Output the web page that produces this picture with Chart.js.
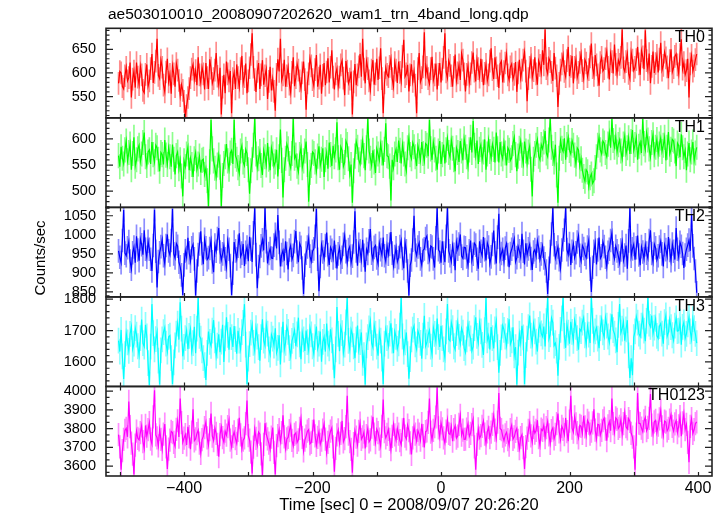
<!DOCTYPE html>
<html>
<head>
<meta charset="utf-8">
<title>ae503010010 wam1 trn 4band</title>
<script src="https://cdn.jsdelivr.net/npm/chart.js@4.4.1/dist/chart.umd.min.js"></script>
<style>
  html, body { margin: 0; padding: 0; background: #fff; }
  #wrap { width: 723px; height: 516px; }
</style>
</head>
<body>
<div id="wrap"><canvas id="lc" width="723" height="516"></canvas></div>
<script>
// light curve, 2 s samples starting at t = -502 s
const tStart = -502;
const tStep = 2;

const panelNames = ["TH0", "TH1", "TH2", "TH3", "TH0123"];

const th0 = [
  578, 603, 600, 571, 566, 594, 612, 583, 590, 622, 548, 587, 604, 569, 622, 591, 575, 614, 596, 563, 558, 597, 618, 572, 583, 609, 640, 579, 601, 625,
  672, 595, 588, 627, 612, 574, 560, 602, 630, 581, 597, 556, 615, 598, 571, 620, 606, 584, 552, 575, 563, 540, 508, 531, 548, 567, 590, 608, 618, 586,
  605, 574, 633, 596, 579, 612, 598, 565, 621, 590, 566, 629, 610, 578, 588, 606, 642, 593, 574, 611, 512, 570, 596, 557, 624, 598, 583, 604, 515, 588,
  601, 566, 618, 590, 570, 609, 636, 578, 592, 620, 557, 583, 611, 639, 684, 612, 586, 560, 603, 621, 566, 596, 627, 575, 594, 608, 545, 582, 613, 563,
  587, 561, 520, 597, 629, 603, 672, 585, 596, 628, 571, 594, 612, 576, 558, 601, 633, 572, 590, 619, 606, 583, 567, 600, 624, 586, 522, 579, 598, 631,
  615, 586, 573, 607, 638, 571, 589, 617, 556, 595, 621, 574, 602, 631, 580, 612, 648, 591, 565, 598, 609, 572, 591, 617, 626, 589, 553, 625, 604, 578,
  587, 603, 512, 581, 619, 574, 596, 613, 640, 592, 672, 608, 578, 625, 609, 583, 564, 606, 627, 575, 598, 630, 585, 611, 652, 588, 515, 579, 611, 597,
  592, 614, 630, 588, 571, 622, 606, 579, 624, 601, 583, 635, 670, 592, 598, 617, 561, 596, 618, 582, 603, 574, 515, 609, 642, 581, 590, 613, 686, 597,
  612, 588, 577, 609, 634, 584, 596, 620, 565, 597, 621, 580, 608, 633, 684, 602, 589, 626, 616, 594, 571, 612, 639, 583, 600, 617, 585, 641, 627, 598,
  561, 597, 615, 579, 598, 622, 643, 604, 582, 628, 609, 591, 630, 605, 574, 599, 618, 583, 596, 625, 652, 607, 587, 633, 611, 594, 568, 619, 625, 580,
  603, 621, 640, 596, 585, 613, 619, 587, 597, 623, 560, 600, 628, 589, 606, 627, 644, 604, 540, 588, 612, 631, 590, 605, 633, 598, 575, 626, 616, 600,
  648, 617, 692, 609, 598, 631, 624, 601, 583, 642, 610, 594, 528, 578, 606, 619, 637, 603, 592, 626, 655, 593, 614, 636, 578, 612, 629, 590, 601, 622,
  640, 605, 588, 628, 621, 592, 607, 634, 662, 611, 595, 638, 617, 596, 573, 622, 633, 604, 609, 630, 646, 612, 586, 641, 624, 599, 660, 618, 598, 627,
  618, 633, 692, 611, 603, 624, 641, 599, 588, 643, 627, 605, 612, 628, 655, 619, 596, 647, 634, 608, 690, 626, 607, 641, 578, 614, 645, 600, 620, 637,
  601, 629, 664, 606, 616, 644, 632, 613, 589, 626, 650, 602, 611, 635, 640, 617, 598, 639, 671, 608, 622, 596, 605, 630, 548, 619, 637, 604, 615, 628,
  640,
];

const th1 = [
  568, 547, 585, 563, 552, 579, 596, 558, 574, 590, 541, 572, 603, 548, 560, 581, 588, 557, 571, 593, 612, 566, 549, 575, 579, 552, 594, 570, 556, 588,
  583, 561, 538, 574, 570, 551, 598, 569, 551, 583, 566, 547, 589, 561, 532, 568, 575, 543, 560, 529, 490, 558, 547, 571, 584, 540, 563, 551, 527, 562,
  574, 541, 552, 567, 536, 559, 561, 532, 544, 520, 471, 556, 636, 581, 558, 544, 527, 550, 569, 546, 471, 530, 553, 566, 590, 558, 542, 573, 578, 552,
  636, 568, 561, 545, 534, 577, 587, 556, 549, 580, 572, 541, 495, 539, 560, 588, 640, 571, 545, 562, 576, 549, 531, 578, 566, 550, 592, 561, 540, 583,
  571, 548, 556, 579, 528, 566, 618, 559, 488, 541, 563, 590, 581, 553, 544, 572, 640, 563, 569, 548, 537, 570, 583, 545, 558, 577, 595, 551, 480, 536,
  549, 575, 572, 556, 538, 567, 586, 549, 561, 582, 527, 560, 574, 543, 593, 570, 548, 587, 566, 579, 632, 564, 541, 585, 578, 547, 555, 596, 589, 562,
  533, 551, 478, 539, 567, 595, 584, 560, 552, 575, 596, 568, 540, 583, 640, 577, 563, 549, 578, 556, 535, 581, 571, 559, 590, 573, 549, 580, 630, 568,
  566, 548, 482, 560, 545, 571, 580, 556, 597, 578, 553, 589, 571, 552, 539, 583, 602, 570, 562, 593, 585, 566, 548, 587, 576, 559, 594, 572, 557, 591,
  588, 567, 636, 581, 560, 594, 579, 563, 541, 577, 596, 552, 570, 589, 553, 579, 601, 574, 565, 598, 582, 560, 538, 583, 574, 556, 596, 577, 559, 600,
  584, 566, 547, 579, 603, 574, 634, 588, 568, 597, 552, 580, 589, 560, 575, 599, 541, 571, 598, 576, 563, 590, 580, 555, 612, 581, 555, 594, 571, 562,
  592, 573, 549, 583, 578, 559, 564, 591, 603, 570, 538, 567, 582, 596, 569, 553, 595, 577, 553, 575, 586, 542, 490, 561, 572, 588, 599, 567, 560, 589,
  581, 594, 615, 573, 566, 598, 640, 584, 572, 556, 589, 531, 478, 563, 597, 582, 576, 601, 560, 589, 603, 578, 571, 597, 588, 569, 552, 583, 579, 548,
  562, 540, 528, 519, 541, 537, 509, 526, 533, 515, 520, 545, 566, 588, 603, 579, 571, 596, 592, 574, 566, 590, 611, 583, 638, 597, 584, 604, 575, 589,
  598, 577, 562, 590, 606, 572, 583, 602, 571, 595, 617, 578, 589, 603, 560, 586, 594, 573, 638, 591, 579, 612, 598, 581, 565, 593, 608, 570, 584, 599,
  571, 590, 602, 576, 588, 603, 559, 584, 613, 571, 580, 599, 596, 577, 548, 592, 587, 565, 609, 583, 566, 578, 540, 571, 592, 560, 575, 594, 558, 573,
  584,
];

const th2 = [
  958, 941, 927, 985, 1065, 952, 945, 966, 982, 931, 910, 953, 968, 927, 996, 960, 932, 989, 974, 948, 1012, 962, 941, 983, 962, 936, 905, 972, 1066, 957,
  862, 930, 953, 969, 988, 945, 924, 972, 1001, 958, 947, 985, 1068, 950, 939, 977, 970, 928, 916, 895, 842, 921, 958, 940, 992, 953, 931, 966, 975, 937,
  841, 905, 948, 976, 1009, 951, 923, 988, 966, 935, 940, 964, 985, 929, 902, 973, 957, 990, 1018, 955, 934, 950, 971, 937, 915, 984, 962, 919, 842, 899,
  981, 958, 937, 970, 1004, 943, 952, 976, 918, 954, 968, 931, 995, 962, 929, 1005, 1070, 948, 860, 917, 943, 971, 987, 959, 1070, 982, 925, 951, 964, 939,
  938, 973, 1001, 964, 1052, 980, 917, 948, 959, 932, 983, 951, 909, 960, 972, 935, 946, 982, 1010, 955, 928, 977, 967, 913, 845, 920, 952, 968, 991, 944,
  930, 957, 963, 996, 1068, 936, 852, 917, 974, 955, 938, 972, 1006, 948, 921, 967, 959, 939, 985, 943, 912, 950, 966, 929, 941, 975, 998, 956, 927, 961,
  969, 926, 944, 981, 1062, 958, 919, 975, 958, 934, 987, 946, 903, 962, 951, 984, 1015, 952, 936, 967, 972, 939, 924, 978, 961, 947, 993, 945, 930, 971,
  949, 975, 1007, 952, 918, 943, 966, 929, 940, 969, 985, 938, 912, 980, 958, 905, 841, 920, 934, 986, 1050, 960, 946, 968, 979, 937, 921, 959, 963, 990,
  997, 954, 935, 971, 968, 937, 914, 992, 1070, 961, 955, 927, 983, 952, 928, 996, 1070, 958, 945, 930, 972, 949, 907, 981, 962, 976, 1001, 944, 938, 967,
  966, 942, 920, 958, 985, 932, 949, 978, 973, 936, 911, 983, 957, 945, 994, 961, 933, 979, 968, 924, 942, 975, 1011, 953, 925, 994, 1055, 936, 951, 962,
  930, 965, 977, 948, 915, 951, 962, 974, 989, 929, 940, 970, 958, 942, 1003, 957, 922, 978, 947, 963, 975, 938, 908, 955, 961, 944, 984, 967, 935, 950,
  970, 939, 924, 905, 845, 912, 956, 1002, 1070, 974, 939, 953, 968, 935, 912, 960, 987, 1012, 1070, 961, 948, 977, 921, 957, 976, 940, 953, 981, 998, 946,
  931, 972, 964, 949, 940, 968, 986, 910, 850, 915, 957, 979, 922, 960, 993, 938, 945, 982, 969, 941, 916, 954, 962, 985, 1005, 952, 937, 970, 958, 944,
  926, 960, 981, 932, 947, 972, 911, 984, 1070, 944, 963, 975, 935, 966, 998, 947, 920, 969, 955, 937, 974, 952, 938, 985, 1012, 951, 929, 976, 966, 934,
  945, 968, 983, 950, 917, 974, 961, 943, 994, 959, 932, 976, 957, 935, 1018, 962, 941, 980, 970, 951, 913, 947, 962, 973, 986, 958, 1052, 971, 938, 905,
  848,
];

const th3 = [
  1668, 1633, 1702, 1618, 1546, 1625, 1691, 1662, 1635, 1689, 1712, 1641, 1658, 1708, 1687, 1650, 1622, 1676, 1735, 1660, 1649, 1718, 1681, 1596, 1527, 1649, 1784, 1692, 1640, 1673,
  1695, 1604, 1528, 1637, 1672, 1695, 1710, 1658, 1633, 1680, 1684, 1612, 1530, 1599, 1653, 1690, 1722, 1671, 1790, 1706, 1618, 1648, 1676, 1700, 1641, 1683, 1705, 1634, 1660, 1712,
  1628, 1706, 1805, 1683, 1674, 1637, 1612, 1590, 1543, 1629, 1697, 1664, 1651, 1700, 1733, 1669, 1620, 1652, 1688, 1631, 1665, 1718, 1600, 1675, 1742, 1686, 1639, 1710, 1679, 1648,
  1714, 1673, 1626, 1699, 1668, 1641, 1695, 1724, 1784, 1655, 1530, 1611, 1657, 1693, 1718, 1661, 1636, 1708, 1681, 1647, 1604, 1679, 1736, 1668, 1652, 1719, 1690, 1640, 1623, 1687,
  1674, 1652, 1707, 1629, 1645, 1685, 1592, 1671, 1728, 1639, 1661, 1712, 1696, 1644, 1618, 1667, 1683, 1701, 1650, 1688, 1741, 1656, 1609, 1694, 1672, 1635, 1700, 1663, 1637, 1709,
  1688, 1650, 1626, 1679, 1713, 1642, 1658, 1697, 1601, 1664, 1680, 1633, 1722, 1658, 1643, 1704, 1669, 1616, 1548, 1640, 1775, 1689, 1634, 1711, 1692, 1628, 1655, 1726, 1805, 1667,
  1640, 1703, 1688, 1650, 1612, 1671, 1716, 1638, 1663, 1694, 1597, 1622, 1528, 1653, 1679, 1707, 1731, 1660, 1646, 1717, 1690, 1649, 1620, 1695, 1668, 1611, 1530, 1658, 1704, 1676,
  1651, 1690, 1723, 1668, 1628, 1697, 1680, 1642, 1659, 1716, 1805, 1681, 1633, 1662, 1694, 1625, 1547, 1609, 1672, 1703, 1715, 1656, 1640, 1699, 1686, 1661, 1610, 1684, 1747, 1650,
  1662, 1687, 1701, 1649, 1625, 1710, 1689, 1665, 1738, 1679, 1648, 1715, 1676, 1640, 1614, 1697, 1784, 1672, 1667, 1726, 1708, 1650, 1639, 1692, 1725, 1680, 1658, 1707, 1693, 1644,
  1630, 1672, 1719, 1690, 1675, 1635, 1649, 1708, 1742, 1683, 1661, 1725, 1697, 1654, 1622, 1701, 1805, 1669, 1684, 1640, 1711, 1676, 1643, 1704, 1730, 1647, 1566, 1629, 1678, 1716,
  1702, 1681, 1652, 1699, 1736, 1657, 1669, 1710, 1621, 1647, 1528, 1630, 1690, 1660, 1715, 1678, 1530, 1622, 1674, 1711, 1748, 1684, 1658, 1722, 1697, 1665, 1633, 1702, 1720, 1691,
  1681, 1713, 1649, 1730, 1805, 1673, 1688, 1740, 1725, 1652, 1660, 1636, 1556, 1648, 1702, 1739, 1805, 1683, 1645, 1719, 1693, 1658, 1728, 1696, 1667, 1733, 1712, 1676, 1639, 1704,
  1698, 1725, 1741, 1685, 1656, 1715, 1687, 1660, 1805, 1731, 1672, 1697, 1709, 1674, 1644, 1708, 1736, 1694, 1679, 1742, 1716, 1681, 1662, 1713, 1752, 1701, 1690, 1669, 1631, 1718,
  1784, 1693, 1706, 1728, 1668, 1704, 1733, 1621, 1549, 1612, 1558, 1679, 1697, 1744, 1725, 1690, 1681, 1716, 1744, 1700, 1666, 1731, 1805, 1722, 1712, 1748, 1690, 1709, 1737, 1683,
  1675, 1714, 1722, 1690, 1658, 1727, 1748, 1681, 1694, 1735, 1711, 1685, 1668, 1716, 1739, 1698, 1700, 1728, 1655, 1712, 1726, 1675, 1689, 1720, 1742, 1697, 1673, 1736, 1708, 1689,
  1660,
];

const th0123 = [
  3768, 3702, 3580, 3683, 3742, 3791, 3801, 3756, 3945, 3810, 3722, 3664, 3555, 3712, 3786, 3748, 3740, 3779, 3815, 3731, 3694, 3817, 3760, 3795, 3832, 3744, 3718, 3863, 4005, 3766,
  3751, 3708, 3796, 3742, 3689, 3771, 3824, 3702, 3585, 3690, 3738, 3785, 3779, 3727, 3705, 3796, 3842, 3755, 3960, 3832, 3726, 3749, 3768, 3713, 3810, 3757, 3690, 3781, 3903, 3735,
  3745, 3773, 3792, 3722, 3668, 3741, 3760, 3805, 3835, 3751, 3712, 3794, 3881, 3760, 3736, 3802, 3774, 3716, 3650, 3768, 3809, 3752, 3728, 3786, 3765, 3810, 3846, 3739, 3703, 3758,
  3782, 3747, 3721, 3790, 3858, 3766, 3693, 3738, 3750, 3827, 3950, 3762, 3738, 3675, 3560, 3701, 3796, 3748, 3712, 3781, 3770, 3665, 3552, 3716, 3829, 3770, 3745, 3722, 3688, 3754,
  3806, 3673, 3555, 3709, 3762, 3795, 3731, 3778, 3871, 3756, 3694, 3745, 3753, 3789, 3818, 3737, 3708, 3769, 3777, 3726, 3740, 3801, 3852, 3753, 3681, 3738, 3760, 3786, 3795, 3719,
  3726, 3785, 3848, 3761, 3710, 3753, 3783, 3716, 3739, 3792, 3825, 3744, 3671, 3727, 3758, 3786, 3804, 3702, 3570, 3695, 3766, 3793, 3722, 3775, 3841, 3729, 3747, 3810, 3975, 3770,
  3731, 3689, 3565, 3720, 3788, 3754, 3712, 3785, 3829, 3743, 3756, 3781, 3694, 3762, 3801, 3729, 3740, 3808, 3863, 3770, 3725, 3796, 3779, 3744, 3707, 3812, 3955, 3784, 3751, 3769,
  3796, 3742, 3688, 3759, 3822, 3766, 3738, 3801, 3770, 3736, 3714, 3793, 3857, 3760, 3745, 3818, 3789, 3724, 3662, 3751, 3808, 3770, 3734, 3790, 3771, 3738, 3826, 3762, 3700, 3784,
  3788, 3833, 3960, 3781, 3742, 3790, 3811, 3862, 4020, 3804, 3757, 3830, 3798, 3751, 3723, 3787, 3846, 3774, 3769, 3811, 3733, 3795, 3815, 3749, 3760, 3822, 3871, 3765, 3792, 3743,
  3744, 3797, 3826, 3758, 3775, 3821, 3850, 3703, 3580, 3716, 3798, 3749, 3763, 3812, 3840, 3771, 3722, 3783, 3806, 3752, 3781, 3823, 3869, 3792, 3748, 3835, 3990, 3801, 3794, 3760,
  3735, 3766, 3780, 3741, 3712, 3794, 3818, 3743, 3756, 3785, 3801, 3737, 3693, 3752, 3768, 3698, 3585, 3704, 3749, 3791, 3832, 3761, 3727, 3806, 3776, 3790, 3845, 3752, 3710, 3797,
  3790, 3818, 3752, 3805, 3838, 3767, 3721, 3789, 3804, 3745, 3769, 3826, 3880, 3783, 3740, 3812, 3796, 3768, 3857, 3784, 3733, 3840, 3975, 3802, 3781, 3863, 3825, 3779, 3750, 3817,
  3812, 3775, 3868, 3809, 3764, 3844, 3829, 3770, 3786, 3831, 3903, 3792, 3745, 3823, 3820, 3766, 3791, 3842, 3856, 3797, 3736, 3815, 3837, 3789, 3960, 3826, 3780, 3858, 3849, 3801,
  3812, 3847, 3770, 3826, 3885, 3810, 3798, 3853, 3838, 3775, 3755, 3702, 3580, 3771, 3990, 3829, 3827, 3803, 3784, 3841, 3860, 3789, 3806, 3855, 3985, 3818, 3772, 3836, 3844, 3780,
  3818, 3852, 3897, 3809, 3763, 3840, 3835, 3788, 3801, 3846, 3874, 3812, 3787, 3825, 3842, 3779, 3815, 3864, 3760, 3831, 3880, 3795, 3822, 3726, 3620, 3812, 3853, 3774, 3795, 3827,
  3836,
];

const series = [th0, th1, th2, th3, th0123];

// 1-sigma error of each panel (counts/sec)
const errors = [24, 24, 31, 41, 62];

// axis ranges and ticks
const xMin = -521.5;
const xMax = 421.8;
const xTickMarks = [-500, -400, -300, -200, -100, 0, 100, 200, 300, 400];
const xTickLabels = [-400, -200, 0, 200, 400];

const yMin = [505, 469, 837, 1522, 3547];
const yMax = [694.4, 640.3, 1072, 1807, 4025];
const yMajor = [
  [550, 600, 650],
  [500, 550, 600],
  [850, 900, 950, 1000, 1050],
  [1600, 1700, 1800],
  [3600, 3700, 3800, 3900, 4000],
];
const yMinorStep = [10, 10, 10, 20, 100 / 3];

const lineColors = ["#ff0000", "#00ff00", "#0000ff", "#00ffff", "#ff00ff"];
const barColors = ["#ff8c8c", "#8cff8c", "#8c8cff", "#8cffff", "#ff8cff"];

const FONT = "'Liberation Sans', Arial, Helvetica, sans-serif";
Chart.defaults.font.family = FONT;
Chart.defaults.color = "#000";

function minus(v) {
  return v < 0 ? "\u2212" + Math.abs(v) : String(v);
}

// light error bars under each line, about one bin wide
const errorBarPlugin = {
  id: "errorBars",
  beforeDatasetsDraw(chart) {
    const ctx = chart.ctx;
    const area = chart.chartArea;
    const xs = chart.scales.x;
    const binPx = xs.getPixelForValue(tStep) - xs.getPixelForValue(0);

    series.forEach(function (vals, k) {
      const ys = chart.scales["y" + k];
      ctx.save();
      ctx.beginPath();
      ctx.rect(area.left, ys.top, area.right - area.left, ys.bottom - ys.top);
      ctx.clip();
      ctx.strokeStyle = barColors[k];
      ctx.lineWidth = binPx + 0.4;
      ctx.lineCap = "butt";
      ctx.beginPath();
      vals.forEach(function (v, i) {
        const px = xs.getPixelForValue(tStart + tStep * i);
        ctx.moveTo(px, ys.getPixelForValue(v - errors[k]));
        ctx.lineTo(px, ys.getPixelForValue(v + errors[k]));
      });
      ctx.stroke();
      ctx.restore();
    });
  },
};

// panel frames, inner tick marks, panel names, titles
const framePlugin = {
  id: "frames",
  afterDraw(chart) {
    const ctx = chart.ctx;
    const area = chart.chartArea;
    const xs = chart.scales.x;

    ctx.save();
    ctx.strokeStyle = "#222";
    ctx.fillStyle = "#000";

    for (let k = 0; k < series.length; k++) {
      const ys = chart.scales["y" + k];
      const top = ys.top;
      const bottom = ys.bottom;

      ctx.lineWidth = 1.2;
      ctx.beginPath();

      xTickMarks.forEach(function (v) {
        const px = Math.round(xs.getPixelForValue(v)) + 0.5;
        ctx.moveTo(px, top);
        ctx.lineTo(px, top + 4);
        ctx.moveTo(px, bottom);
        ctx.lineTo(px, bottom - 4);
      });

      const step = yMinorStep[k];
      const first = yMajor[k][0];
      for (let v = first - step * Math.floor((first - yMin[k]) / step); v <= yMax[k]; v += step) {
        const py = ys.getPixelForValue(v);
        const isMajor = yMajor[k].some(function (m) { return Math.abs(m - v) < 0.01; });
        const len = isMajor ? 7 : 3.5;
        ctx.moveTo(area.left, py);
        ctx.lineTo(area.left + len, py);
        ctx.moveTo(area.right, py);
        ctx.lineTo(area.right - len, py);
      }
      ctx.stroke();

      ctx.lineWidth = 1.6;
      ctx.strokeRect(area.left, top, area.right - area.left, bottom - top);

      ctx.font = "16px " + FONT;
      ctx.textAlign = "right";
      ctx.textBaseline = "middle";
      ctx.fillText(panelNames[k], area.right - 7, top + 9.5);
    }

    ctx.font = "15.5px " + FONT;
    ctx.textAlign = "left";
    ctx.textBaseline = "alphabetic";
    ctx.fillText("ae503010010_20080907202620_wam1_trn_4band_long.qdp", 108, 18.5);

    ctx.font = "15px " + FONT;
    ctx.translate(41, 258);
    ctx.rotate(-Math.PI / 2);
    ctx.textAlign = "center";
    ctx.textBaseline = "middle";
    ctx.fillText("Counts/sec", 0, 0);
    ctx.restore();
  },
};

const datasets = series.map(function (vals, k) {
  return {
    label: panelNames[k],
    data: vals.map(function (v, i) { return { x: tStart + tStep * i, y: v }; }),
    yAxisID: "y" + k,
    borderColor: lineColors[k],
    borderWidth: 1.2,
    pointRadius: 0,
    tension: 0,
    fill: false,
  };
});

const scales = {
  x: {
    type: "linear",
    min: xMin,
    max: xMax,
    grid: { display: false, drawTicks: false },
    border: { display: false },
    afterBuildTicks(scale) {
      scale.ticks = xTickLabels.map(function (v) { return { value: v }; });
    },
    afterFit(scale) {
      scale.height = 40;
    },
    ticks: {
      autoSkip: false,
      maxRotation: 0,
      padding: 3,
      font: { size: 16 },
      callback: function (v) { return minus(v); },
    },
    title: {
      display: true,
      text: "Time [sec] 0 = 2008/09/07 20:26:20",
      font: { size: 16.5 },
      padding: { top: 0, bottom: 1 },
    },
  },
};

series.forEach(function (vals, k) {
  scales["y" + k] = {
    type: "linear",
    position: "left",
    stack: "panels",
    weight: series.length - k,
    min: yMin[k],
    max: yMax[k],
    grid: { display: false, drawTicks: false },
    border: { display: false },
    afterBuildTicks(scale) {
      scale.ticks = yMajor[k].map(function (v) { return { value: v }; });
    },
    afterFit(scale) {
      scale.width = 106;
    },
    ticks: {
      autoSkip: false,
      padding: 10,
      font: { size: 14.5 },
      callback: function (v) { return String(v); },
    },
  };
});

new Chart(document.getElementById("lc"), {
  type: "line",
  data: { datasets: datasets },
  options: {
    responsive: false,
    animation: false,
    devicePixelRatio: 1,
    layout: { padding: { left: 0, right: 11, top: 28.3, bottom: 0 } },
    plugins: {
      legend: { display: false },
      tooltip: { enabled: false },
    },
    scales: scales,
  },
  plugins: [errorBarPlugin, framePlugin],
});
</script>
</body>
</html>
